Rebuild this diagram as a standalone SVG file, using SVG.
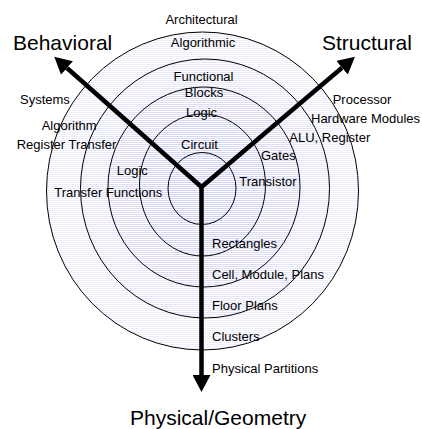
<svg xmlns="http://www.w3.org/2000/svg" width="422" height="429" viewBox="0 0 422 429">
<style>
.ring{stroke:#000;stroke-width:1}
.lbl{font-family:"Liberation Sans",Arial,sans-serif;font-size:13px;fill:#000}
.big{font-family:"Liberation Sans",Arial,sans-serif;font-size:21px;fill:#000}
.mid{text-anchor:middle}
.axis{fill:none;stroke:#000;stroke-width:4.5;stroke-linejoin:miter}
</style>
<defs>
<pattern id="p1" width="4" height="2" patternUnits="userSpaceOnUse"><rect width="4" height="2" fill="#fff"/><rect width="4" height="1" fill="#ededfb"/></pattern>
<pattern id="p2" width="4" height="2" patternUnits="userSpaceOnUse"><rect width="4" height="2" fill="#fff"/><rect width="4" height="1" fill="#e4e4fa"/></pattern>
<pattern id="p3" width="4" height="2" patternUnits="userSpaceOnUse"><rect width="4" height="2" fill="#fff"/><rect width="4" height="1" fill="#dcdcf8"/></pattern>
<pattern id="p4" width="4" height="2" patternUnits="userSpaceOnUse"><rect width="4" height="2" fill="#fff"/><rect width="4" height="1" fill="#d6d6f7"/></pattern>
<pattern id="p5" width="4" height="2" patternUnits="userSpaceOnUse"><rect width="4" height="2" fill="#fff"/><rect width="4" height="1" fill="#d2d2f6"/></pattern>
<marker id="ah" markerUnits="userSpaceOnUse" markerWidth="18" markerHeight="18" refX="0" refY="9" orient="auto"><path d="M0,0 L17,9 L0,18 z" fill="#000"/></marker>
</defs>
<g id="rings">
<ellipse class="ring" cx="202.5" cy="191" rx="156" ry="159" fill="url(#p1)"/>
<ellipse class="ring" cx="205" cy="188.5" rx="124.5" ry="129.5" fill="url(#p2)"/>
<ellipse class="ring" cx="204" cy="187" rx="96" ry="100" fill="url(#p3)"/>
<ellipse class="ring" cx="202.5" cy="185" rx="63" ry="71" fill="url(#p4)"/>
<ellipse class="ring" cx="202" cy="188.5" rx="34" ry="36" fill="url(#p5)"/>
</g>
<g id="connectors">
<path class="axis" d="M201.5,187 L67,68" marker-end="url(#ah)"/>
<path class="axis" d="M201.5,187 L342,67.7" marker-end="url(#ah)"/>
<path class="axis" d="M201.5,185 L201.5,375" marker-end="url(#ah)"/>
</g>
<g id="behavioral"><text class="big" x="13" y="50">Behavioral</text></g>
<g id="structural"><text class="big" x="322" y="50">Structural</text></g>
<g id="physical"><text class="big" x="130" y="425">Physical/Geometry</text></g>
<g id="level-architectural"><text class="lbl mid" x="201.5" y="24">Architectural</text></g>
<g id="level-algorithmic"><text class="lbl mid" x="203" y="47">Algorithmic</text></g>
<g id="level-functional"><text class="lbl mid" x="203.5" y="81">Functional</text><text class="lbl mid" x="204" y="97">Blocks</text></g>
<g id="level-logic"><text class="lbl mid" x="201.5" y="117">Logic</text></g>
<g id="level-circuit"><text class="lbl mid" x="199.5" y="149">Circuit</text></g>
<g id="beh-labels">
<text class="lbl" x="20" y="104">Systems</text>
<text class="lbl" x="41.7" y="130">Algorithm</text>
<text class="lbl" x="16.7" y="149">Register Transfer</text>
<text class="lbl" x="116.7" y="175">Logic</text>
<text class="lbl" x="54.3" y="196.7">Transfer Functions</text>
</g>
<g id="str-labels">
<text class="lbl" x="332.7" y="104">Processor</text>
<text class="lbl" x="311" y="122.7">Hardware Modules</text>
<text class="lbl" x="289.3" y="141.7">ALU, Register</text>
<text class="lbl" x="261" y="160">Gates</text>
<text class="lbl" x="239.3" y="185.7">Transistor</text>
</g>
<g id="phy-labels">
<text class="lbl" x="212" y="248">Rectangles</text>
<text class="lbl" x="212" y="279">Cell, Module, Plans</text>
<text class="lbl" x="212" y="310">Floor Plans</text>
<text class="lbl" x="212" y="341">Clusters</text>
<text class="lbl" x="212" y="373">Physical Partitions</text>
</g>
</svg>
